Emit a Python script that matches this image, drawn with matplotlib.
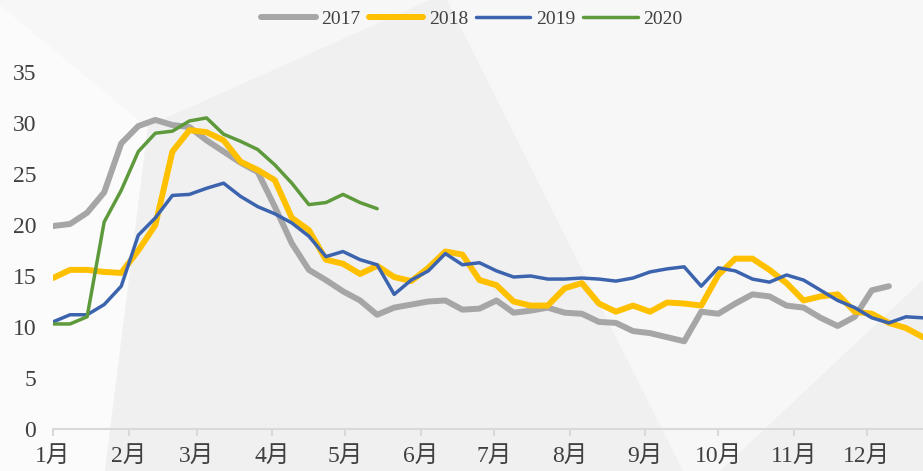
import numpy as np
import matplotlib.pyplot as plt
from matplotlib.patches import Polygon

# weekly values, week index 0..51
y2017 = [19.9, 20.1, 21.2, 23.2, 28.0, 29.7, 30.3, 29.8, 29.6, 28.3,
         27.2, 26.1, 25.2, 21.8, 18.2, 15.6, 14.6, 13.5, 12.6, 11.2,
         11.9, 12.2, 12.5, 12.6, 11.7, 11.8, 12.6, 11.4, 11.6, 11.9,
         11.4, 11.3, 10.5, 10.4, 9.6, 9.4, 9.0, 8.6, 11.5, 11.3,
         12.3, 13.2, 13.0, 12.1, 11.9, 10.9, 10.1, 11.0, 13.6, 14.0]
y2018 = [14.8, 15.6, 15.6, 15.4, 15.3, 17.5, 20.0, 27.2, 29.3, 29.1,
         28.3, 26.2, 25.4, 24.4, 20.7, 19.5, 16.6, 16.2, 15.2, 16.0,
         14.9, 14.5, 15.8, 17.4, 17.1, 14.6, 14.1, 12.5, 12.1, 12.1,
         13.8, 14.3, 12.3, 11.5, 12.1, 11.5, 12.4, 12.3, 12.1, 15.1,
         16.7, 16.7, 15.6, 14.3, 12.6, 13.0, 13.2, 11.5, 11.3, 10.4,
         9.9, 9.0]
y2019 = [10.5, 11.2, 11.2, 12.2, 14.0, 19.0, 20.7, 22.9, 23.0, 23.6,
         24.1, 22.8, 21.8, 21.1, 20.2, 18.9, 16.9, 17.4, 16.6, 16.1,
         13.2, 14.6, 15.5, 17.2, 16.1, 16.3, 15.5, 14.9, 15.0, 14.7,
         14.7, 14.8, 14.7, 14.5, 14.8, 15.4, 15.7, 15.9, 14.0, 15.8,
         15.5, 14.7, 14.4, 15.1, 14.6, 13.6, 12.6, 11.9, 10.9, 10.4,
         11.0, 10.9]
y2020 = [10.3, 10.3, 11.0, 20.3, 23.4, 27.2, 29.0, 29.2, 30.2, 30.5,
         28.9, 28.2, 27.4, 25.9, 24.1, 22.0, 22.2, 23.0, 22.2, 21.6]

months = ['1月', '2月', '3月', '4月', '5月', '6月', '7月', '8月', '9月', '10月', '11月', '12月']
month_days = [31, 28, 31, 30, 31, 30, 31, 31, 30, 31, 30, 31]
yticks = [0, 5, 10, 15, 20, 25, 30, 35]

plt.rcParams['font.family'] = ['Liberation Serif', 'Noto Sans CJK SC']

W, H = 923, 471
fig = plt.figure(figsize=(W / 100, H / 100), dpi=100)
fig.patch.set_facecolor('#f7f7f7')

# decorative background shapes on a back axes (pixel coords, y down)
bg = fig.add_axes([0, 0, 1, 1], zorder=-5)
bg.set_xlim(0, W)
bg.set_ylim(H, 0)
bg.axis('off')
bg.add_patch(Polygon([(0, 0), (0, 471), (105, 471), (148, 128), (0, 5)],
                     fc='#fbfbfb', ec='none'))
bg.add_patch(Polygon([(148, 126), (430, 0), (447, 0), (683, 471), (105, 471)],
                     fc='#f0f0f0', ec='none'))
bg.add_patch(Polygon([(923, 280), (923, 471), (720, 471)],
                     fc='#f0f0f0', ec='none'))

ax = fig.add_axes([53 / W, 1 - 429 / H, (W - 53) / W, 38 * 10.2 / H])
ax.set_facecolor('none')

ax.plot(range(len(y2017)), y2017, color='#a6a6a6', lw=4.3, label='2017', solid_capstyle='round')
ax.plot(range(len(y2018)), y2018, color='#ffc000', lw=4.3, label='2018', solid_capstyle='round')
ax.plot(range(len(y2019)), y2019, color='#3c64ae', lw=2.5, label='2019', solid_capstyle='round')
ax.plot(range(len(y2020)), y2020, color='#5e9a3c', lw=2.5, label='2020', solid_capstyle='round')

ax.set_xlim(0, 51)
ax.set_ylim(0, 38)

starts = np.concatenate([[0], np.cumsum(month_days)[:-1]]) / 7.0
ax.set_xticks(starts)
ax.set_xticklabels(months)
ax.set_yticks(yticks)

for s in ['top', 'right', 'left']:
    ax.spines[s].set_visible(False)
ax.spines['bottom'].set_color('#d9d9d9')
ax.spines['bottom'].set_linewidth(1.5)
ax.tick_params(axis='x', length=5, width=1.5, color='#d9d9d9', pad=7,
               labelsize=17, labelcolor='#404040')
ax.tick_params(axis='y', length=0, pad=12, labelsize=17, labelcolor='#404040')

leg = fig.legend(loc='center', bbox_to_anchor=(472 / W, 1 - 19 / H), ncol=4,
                 frameon=False, fontsize=14, handlelength=2.8, handletextpad=0.3,
                 columnspacing=0.4, labelcolor='#404040')

fig.savefig('out.png', dpi=100, facecolor=fig.get_facecolor())
